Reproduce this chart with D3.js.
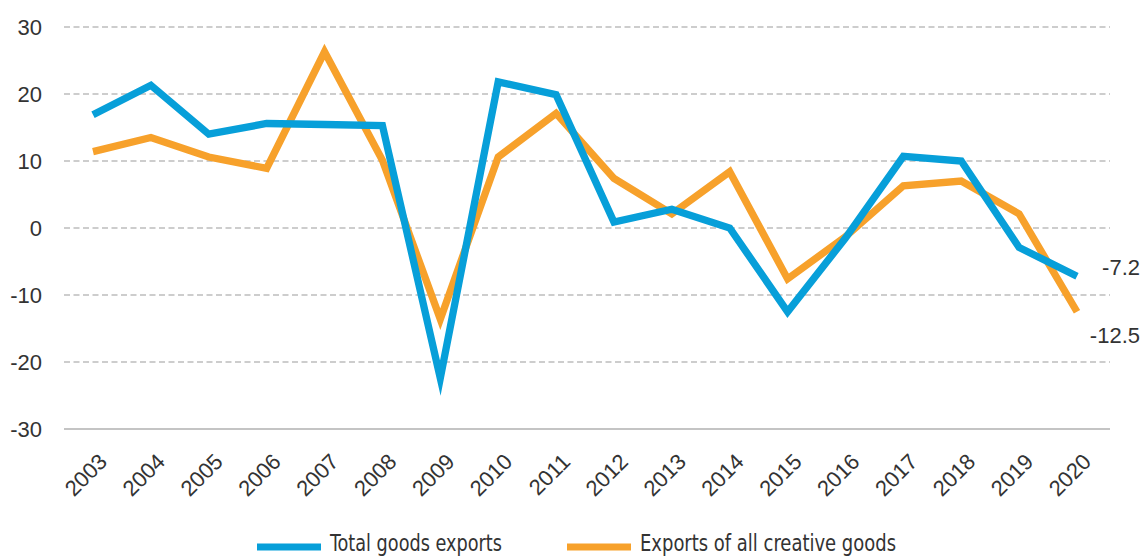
<!DOCTYPE html>
<html>
<head>
<meta charset="utf-8">
<script src="https://cdn.jsdelivr.net/npm/d3@7/dist/d3.min.js"></script>
<style>
  html, body { margin: 0; padding: 0; background: #fff; }
  svg { display: block; }
</style>
</head>
<body>
<svg id="chart" width="1145" height="557"></svg>
<script>
// ---- Data ----
const years = ["2003","2004","2005","2006","2007","2008","2009","2010","2011","2012","2013","2014","2015","2016","2017","2018","2019","2020"];
const totalGoods = [16.9, 21.3, 14.0, 15.6, 15.45, 15.3, -22.4, 21.8, 19.9, 0.9, 2.8, 0.0, -12.5, -1.5, 10.7, 10.0, -2.9, -7.2];
const creativeGoods = [11.4, 13.5, 10.6, 8.9, 26.3, 10.1, -13.6, 10.6, 17.1, 7.4, 2.1, 8.4, -7.6, -1.3, 6.3, 7.0, 2.1, -12.5];
const yTicks = [-30, -20, -10, 0, 10, 20, 30];
const seriesNames = ["Total goods exports", "Exports of all creative goods"];
const endLabels = ["-7.2", "-12.5"];

// ---- Layout ----
const svg = d3.select("#chart");
const colors = ["#079fd9", "#f7a12b"];
const tickFont = "'Liberation Sans', Arial, sans-serif";

const x = d3.scalePoint().domain(years).range([93, 1077]);
const y = d3.scaleLinear().domain([-30, 30]).range([429, 27]);
const gridX0 = 64, gridX1 = 1110;

// gridlines
const grid = svg.append("g");
grid.selectAll("line")
  .data(yTicks)
  .join("line")
  .attr("x1", gridX0).attr("x2", gridX1)
  .attr("y1", d => y(d)).attr("y2", d => y(d))
  .attr("stroke", d => d === -30 ? "#c4c4c4" : "#bdbdbd")
  .attr("stroke-width", d => d === -30 ? 2 : 1.6)
  .attr("stroke-dasharray", d => d === -30 ? null : "6,3.5");

// y axis labels
const yAxis = d3.axisLeft(y).tickValues(yTicks).tickSize(0).tickPadding(0).tickFormat(d => String(d));
const gy = svg.append("g").attr("transform", "translate(42,0)").call(yAxis);
gy.select(".domain").remove();
gy.selectAll("text")
  .attr("font-family", tickFont)
  .attr("font-size", 22)
  .attr("fill", "#333")
  .attr("dy", "0.35em");

// x axis labels
const xAxis = d3.axisBottom(x).tickSize(0).tickPadding(0);
const gx = svg.append("g").attr("transform", "translate(0,429)").call(xAxis);
gx.select(".domain").remove();
gx.selectAll("text")
  .attr("font-family", tickFont)
  .attr("font-size", 22)
  .attr("fill", "#333")
  .attr("text-anchor", "end")
  .attr("dy", 0)
  .attr("y", 0)
  .attr("transform", "translate(15,34) rotate(-45)");

// lines
const line = d3.line().x((d, i) => x(years[i])).y(d => y(d));
const series = [creativeGoods, totalGoods];
const seriesColors = [colors[1], colors[0]];
svg.append("g").selectAll("path")
  .data(series)
  .join("path")
  .attr("d", d => line(d))
  .attr("fill", "none")
  .attr("stroke", (d, i) => seriesColors[i])
  .attr("stroke-width", 7.3)
  .attr("stroke-linejoin", "miter")
  .attr("stroke-miterlimit", 10)
  .attr("stroke-linecap", "butt");

// end labels
const lastIdx = years.length - 1;
const endVals = [totalGoods[lastIdx], creativeGoods[lastIdx]];
const endOffsets = [-9, 24];
svg.append("g").selectAll("text")
  .data(endLabels)
  .join("text")
  .attr("x", 1140)
  .attr("y", (d, i) => y(endVals[i]) + endOffsets[i])
  .attr("dy", "0.35em")
  .attr("text-anchor", "end")
  .attr("font-family", tickFont)
  .attr("font-size", 22)
  .attr("fill", "#333")
  .text(d => d);

// legend
const legendX = [257, 567];
const legendTextW = [172, 256];
const lg = svg.append("g");
seriesNames.forEach((name, i) => {
  lg.append("line")
    .attr("x1", legendX[i]).attr("x2", legendX[i] + 64)
    .attr("y1", 547).attr("y2", 547)
    .attr("stroke", colors[i])
    .attr("stroke-width", 7);
  lg.append("text")
    .attr("x", legendX[i] + 73)
    .attr("y", 551)
    .attr("font-family", "'Liberation Sans Narrow', 'DejaVu Sans Condensed', sans-serif")
    .attr("font-size", 23)
    .attr("fill", "#333")
    .attr("textLength", legendTextW[i])
    .attr("lengthAdjust", "spacingAndGlyphs")
    .text(name);
});
</script>
</body>
</html>
